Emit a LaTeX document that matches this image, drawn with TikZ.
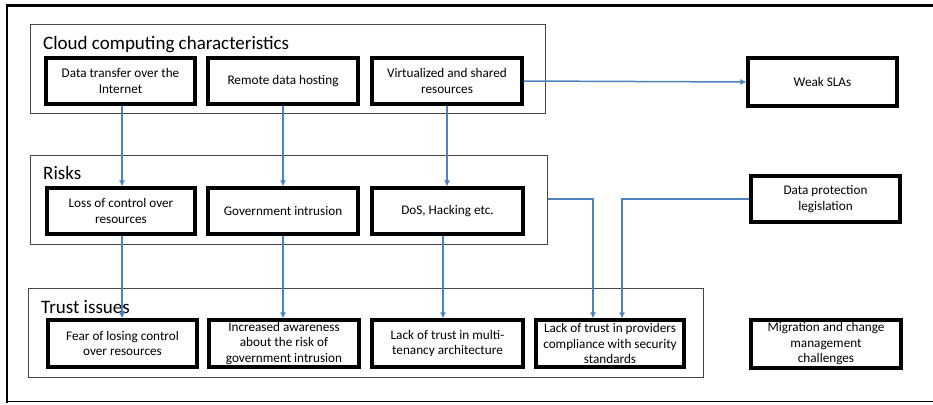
\documentclass[tikz,border=0pt]{standalone}
\usepackage{fontspec}
\setmainfont{Carlito}
\usetikzlibrary{arrows.meta}
\definecolor{linkblue}{RGB}{79,129,189}
\definecolor{framegray}{RGB}{70,70,70}
\tikzset{
  group/.style={draw=framegray, line width=1pt, inner sep=0pt, fill=none},
  grouplabel/.style={anchor=base west, inner sep=0pt, font=\fontsize{19}{22}\selectfont},
  card/.style={draw=black, line width=3.2pt, fill=white, inner sep=0pt,
    minimum width=149pt, minimum height=46pt, align=center,
    font=\fontsize{13.2}{15.5}\selectfont},
  link/.style={draw=linkblue, line width=1.5pt, -{Latex[length=6pt,width=6pt]}}
}
\begin{document}
\begin{tikzpicture}[x=1pt,y=-1pt]
\useasboundingbox (0,0) rectangle (933,404);

% outer frame (left, top and bottom edges)
\draw[line width=2.6pt] (7,403) -- (7,5.5) -- (933,5.5);
\draw[line width=1.2pt] (7,401.5) -- (933,401.5);

% layer frames
\node[group, minimum width=515pt, minimum height=88pt] (cloud) at (287.5,69) {};
\node[group, minimum width=517pt, minimum height=89pt] (risks) at (288.5,199.5) {};
\node[group, minimum width=675pt, minimum height=89pt] (trust) at (365.5,332.5) {};

\node[grouplabel] (cloudlbl) at (43,49) {Cloud computing characteristics};
\node[grouplabel] (riskslbl) at (43,179) {Risks};
\node[grouplabel] (trustlbl) at (41,313) {Trust issues};

% characteristics
\node[card] (dt)  at (120.5,81) {Data transfer over the\\Internet};
\node[card, minimum width=150pt] (rdh) at (283,81) {Remote data hosting};
\node[card, minimum width=150pt] (vsr) at (447,81) {Virtualized and shared\\resources};
\node[card, minimum height=48pt] (sla) at (822.5,82) {Weak SLAs};

% risks
\node[card, minimum width=148pt] (loc) at (121,211) {Loss of control over\\resources};
\node[card, minimum width=150pt] (gi)  at (283,211) {Government intrusion};
\node[card, minimum width=151pt] (dos) at (447.5,211) {DoS, Hacking etc.};
\node[card] (dpl) at (825.5,199) {Data protection\\legislation};

% trust issues
\node[card, minimum height=47pt] (fear) at (122.5,343.5) {Fear of losing control\\over resources};
\node[card, minimum width=150pt, minimum height=47pt] (inc) at (284,343.5) {Increased awareness\\about the risk of\\government intrusion};
\node[card, minimum width=151pt, minimum height=47pt] (mt) at (447.5,343.5) {Lack of trust in multi-\\tenancy architecture};
\node[card, minimum width=148pt, minimum height=47pt] (prov) at (610,343.5) {Lack of trust in providers\\compliance with security\\standards};
\node[card, minimum width=150pt, minimum height=48pt] (mig) at (826,344) {Migration and change\\management\\challenges};

% connectors
\draw[link] ([xshift=1.5pt]dt.south) -- ([xshift=1pt]loc.north);
\draw[link] (rdh.south) -- (gi.north);
\draw[link] (vsr.south) -- ([xshift=-0.5pt]dos.north);
\draw[link] (vsr.east) -- (sla.west);
\draw[link] ([xshift=1pt]loc.south) -- ([xshift=-0.5pt]fear.north);
\draw[link] (gi.south) -- ([xshift=-1pt]inc.north);
\draw[link] ([xshift=-4.5pt]dos.south) -- ([xshift=-4.5pt]mt.north);
\draw[link] (risks.east |- dpl.west) -| ([xshift=-17pt]prov.north);
\draw[link] (dpl.west) -| ([xshift=12pt]prov.north);
\end{tikzpicture}
\end{document}
